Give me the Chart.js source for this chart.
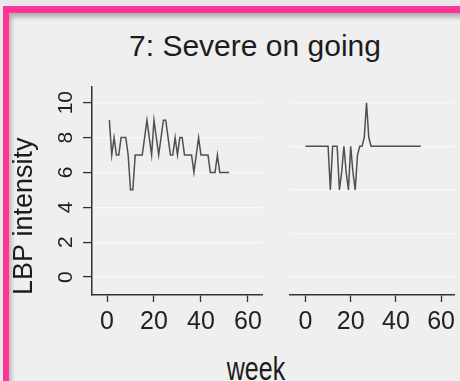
<!DOCTYPE html>
<html>
<head>
<meta charset="utf-8">
<script src="https://cdn.jsdelivr.net/npm/chart.js@4.4.1/dist/chart.umd.min.js"></script>
<style>
  html, body { margin: 0; padding: 0; }
  body { width: 460px; height: 381px; overflow: hidden; background: #e8e8e8; position: relative;
         font-family: "Liberation Sans", Arial, sans-serif; }
  #frame { position: absolute; left: 3px; top: 6px; width: 480px; height: 400px;
           border-top: 7px solid #fd3597; border-left: 6px solid #fd3597; background: #efefef;
           box-shadow: inset 2px 4px 5px rgba(0,0,0,0.28); }
  #title { position: absolute; left: 105px; top: 31px; width: 300px; text-align: center;
           font-size: 30px; line-height: 30px; color: #1c1c1c; }
  #xlabel { position: absolute; left: 200px; top: 359px; width: 112px; text-align: center;
            font-size: 25px; line-height: 25px; color: #1c1c1c;
            transform: scaleY(1.3); transform-origin: 50% 21px; }
  canvas { position: absolute; }
  #panelA { left: 0px; top: 80px; }
  #panelB { left: 280px; top: 80px; }
</style>
</head>
<body>
<div id="frame"></div>
<div id="title">7: Severe on going</div>
<canvas id="panelA" width="275" height="260"></canvas>
<canvas id="panelB" width="180" height="260"></canvas>
<div id="xlabel">week</div>
<script>
// weekly LBP intensity, left subject
var weeksA = [1,2,3,4,5,6,7,8,9,10,11,12,13,14,15,16,17,18,19,20,21,22,23,24,25,26,
              27,28,29,30,31,32,33,34,35,36,37,38,39,40,41,42,43,44,45,46,47,48,49,50,51,52];
var painA = [9,7,8,7,7,8,8,8,7,5,5,7,7,7,7,8,9,8,7,9,8,7,8,9,9,8,
             7,7,8,7,8,8,7,7,7,7,6,7,8,7,7,7,7,6,6,6,7,6,6,6,6,6];

// weekly LBP intensity, right subject
var weeksB = [0,1,2,3,4,5,6,7,8,9,10,11,12,13,14,15,16,17,18,19,20,21,22,23,24,25,
              26,27,28,29,30,31,32,33,34,35,36,37,38,39,40,41,42,43,44,45,46,47,48,49,50,51];
var painB = [7.5,7.5,7.5,7.5,7.5,7.5,7.5,7.5,7.5,7.5,7.5,5,7.5,7.5,7.5,5,6,7.5,6,5,7.5,6,5,7,7.5,7.5,
             8,10,8,7.5,7.5,7.5,7.5,7.5,7.5,7.5,7.5,7.5,7.5,7.5,7.5,7.5,7.5,7.5,7.5,7.5,7.5,7.5,7.5,7.5,7.5,7.5];

var xTicks = [0, 20, 40, 60];
var yTicksA = [0, 2, 4, 6, 8, 10];
var yGridB = [0, 2.5, 5, 7.5, 10];

var FONT = '"Liberation Sans", Arial, sans-serif';
var AXIS = '#333333';
var GRID = '#f9f9f9';
var LINE = '#505050';

function points(xs, ys) {
  return xs.map(function (x, i) { return { x: x, y: ys[i] }; });
}

function fixedTicks(list) {
  return function (scale) {
    scale.ticks = list.map(function (v) { return { value: v }; });
  };
}

// y tick labels read bottom-to-top, drawn next to the tick marks
var rotatedYLabels = {
  id: 'rotatedYLabels',
  afterDraw: function (chart) {
    var y = chart.scales.y;
    var ctx = chart.ctx;
    ctx.save();
    ctx.font = '21px ' + FONT;
    ctx.fillStyle = '#222222';
    ctx.textAlign = 'center';
    ctx.textBaseline = 'alphabetic';
    y.ticks.forEach(function (t) {
      ctx.save();
      ctx.translate(y.right - 20, y.getPixelForValue(t.value));
      ctx.rotate(-Math.PI / 2);
      ctx.fillText(String(t.value), 0, 0);
      ctx.restore();
    });
    ctx.restore();
  }
};

function xScale(min, max) {
  return {
    type: 'linear',
    min: min,
    max: max,
    afterBuildTicks: fixedTicks(xTicks),
    afterFit: function (s) { s.height = 45; },
    grid: { drawOnChartArea: false, tickLength: 7, tickColor: AXIS, tickWidth: 1.3 },
    border: { color: AXIS, width: 1.5 },
    ticks: { autoSkip: false, maxRotation: 0, padding: 5, color: '#222222',
             font: { family: FONT, size: 25 } }
  };
}

function lineData(xs, ys) {
  return {
    datasets: [{
      data: points(xs, ys),
      borderColor: LINE,
      borderWidth: 1.5,
      pointRadius: 0,
      tension: 0,
      fill: false
    }]
  };
}

new Chart(document.getElementById('panelA'), {
  type: 'line',
  data: lineData(weeksA, painA),
  options: {
    animation: false,
    responsive: false,
    layout: { padding: { top: 7, right: 13, left: 0, bottom: 0 } },
    plugins: { legend: { display: false }, tooltip: { enabled: false } },
    scales: {
      x: xScale(-6.4, 66),
      y: {
        min: -1.03,
        max: 10.9,
        afterBuildTicks: fixedTicks(yTicksA),
        afterFit: function (s) { s.width = 92; },
        grid: { color: GRID, lineWidth: 1.2, tickLength: 9, tickColor: AXIS, tickWidth: 1.3 },
        border: { color: AXIS, width: 1.5 },
        ticks: { display: false },
        title: { display: true, text: 'LBP intensity', align: 'start', color: '#1c1c1c',
                 font: { family: FONT, size: 27 }, padding: { top: 8, bottom: 0 } }
      }
    }
  },
  plugins: [rotatedYLabels]
});

new Chart(document.getElementById('panelB'), {
  type: 'line',
  data: lineData(weeksB, painB),
  options: {
    animation: false,
    responsive: false,
    layout: { padding: { top: 7, right: 0, left: 0, bottom: 0 } },
    plugins: { legend: { display: false }, tooltip: { enabled: false } },
    scales: {
      x: xScale(-6.86, 66),
      y: {
        min: -1.03,
        max: 10.9,
        afterBuildTicks: fixedTicks(yGridB),
        afterFit: function (s) { s.width = 10; },
        grid: { color: GRID, lineWidth: 1.2, drawTicks: false },
        border: { display: false },
        ticks: { display: false }
      }
    }
  }
});
</script>
</body>
</html>
